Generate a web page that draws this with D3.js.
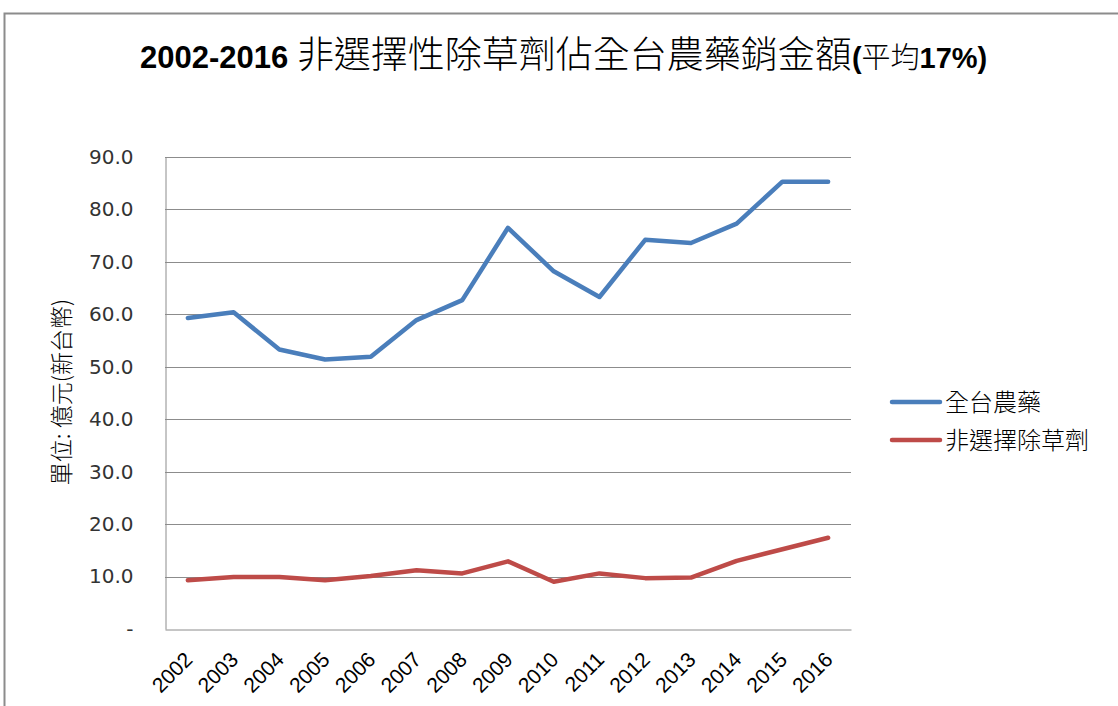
<!DOCTYPE html>
<html>
<head>
<meta charset="utf-8">
<script src="https://cdn.jsdelivr.net/npm/d3@7"></script>
<style>
  body { margin: 0; background: #fff; }
  svg { display: block; }
  .lat { font-family: "Liberation Sans", sans-serif; }
  .cjk { font-family: "Noto Sans CJK TC", sans-serif; font-weight: 300; }
  .grid line { stroke: #8c8c8c; stroke-width: 1; }
</style>
</head>
<body>
<svg width="1118" height="706"></svg>
<script>
// data
const years = ['2002','2003','2004','2005','2006','2007','2008','2009','2010','2011','2012','2013','2014','2015','2016'];
const allPesticide = [59.3, 60.4, 53.3, 51.4, 51.9, 58.9, 62.7, 76.5, 68.2, 63.3, 74.2, 73.6, 77.3, 85.3, 85.3];
const herbicide = [9.3, 9.9, 9.9, 9.3, 10.1, 11.2, 10.6, 12.9, 9.0, 10.6, 9.7, 9.8, 13.0, 15.2, 17.4];
const yTicks = [0, 10, 20, 30, 40, 50, 60, 70, 80, 90];
const seriesNames = ['全台農藥', '非選擇除草劑'];
const seriesColors = ['#4a7ebb', '#be4b48'];

const svg = d3.select('svg');
const margin = { top: 157, left: 165, right: 267, bottom: 77 };
const width = 1118, height = 706;
const innerW = width - margin.left - margin.right;
const innerH = height - margin.top - margin.bottom;

// outer chart border
svg.append('rect')
    .attr('x', 4.5).attr('y', 13.5)
    .attr('width', 1130).attr('height', 720)
    .attr('fill', 'none')
    .attr('stroke', '#8c8c8c')
    .attr('stroke-width', 2);

// title
const title = svg.append('text')
    .attr('x', 140).attr('y', 68)
    .attr('fill', '#000');
title.append('tspan').attr('class', 'lat').attr('font-weight', 'bold').attr('font-size', 31).text('2002-2016 ');
title.append('tspan').attr('class', 'cjk').attr('font-size', 37).text('非選擇性除草劑佔全台農藥銷金額');
title.append('tspan').attr('class', 'lat').attr('font-weight', 'bold').attr('font-size', 29).text('(');
title.append('tspan').attr('class', 'cjk').attr('font-size', 29).text('平均');
title.append('tspan').attr('class', 'lat').attr('font-weight', 'bold').attr('font-size', 29).text('17%)');

// scales
const x = d3.scalePoint()
    .domain(years)
    .range([margin.left, margin.left + innerW])
    .padding(0.5);

const y = d3.scaleLinear()
    .domain([0, 90])
    .range([margin.top + innerH, margin.top]);

// grid lines
svg.append('g')
    .attr('class', 'grid')
    .selectAll('line')
    .data(yTicks.filter(d => d > 0))
    .enter()
    .append('line')
    .attr('x1', margin.left).attr('x2', margin.left + innerW)
    .attr('y1', d => Math.round(y(d)) + 0.5)
    .attr('y2', d => Math.round(y(d)) + 0.5);

// y axis
const yAxis = d3.axisLeft(y)
    .tickValues(yTicks)
    .tickSize(0)
    .tickPadding(32)
    .tickFormat(d => d === 0 ? '-' : d.toFixed(1));

const yAxisGroup = svg.append('g')
    .attr('transform', `translate(${margin.left + 0.5},0)`)
    .call(yAxis);
yAxisGroup.select('.domain').attr('stroke', '#8c8c8c');
yAxisGroup.selectAll('text')
    .style('font-family', '"DejaVu Sans", sans-serif')
    .style('font-size', '20px')
    .attr('fill', '#333');

// x axis
const xAxis = d3.axisBottom(x).tickSize(0).tickFormat('');
const xAxisGroup = svg.append('g')
    .attr('transform', `translate(0,${margin.top + innerH + 0.5})`)
    .call(xAxis);
xAxisGroup.select('.domain').attr('stroke', '#8c8c8c');

svg.append('g')
    .selectAll('text')
    .data(years)
    .enter()
    .append('text')
    .attr('class', 'lat')
    .attr('font-size', 21)
    .attr('fill', '#000')
    .attr('text-anchor', 'end')
    .attr('transform', d => `translate(${x(d) + 6},${margin.top + innerH + 32}) rotate(-45)`)
    .text(d => d);

// y axis title
svg.append('text')
    .attr('class', 'cjk')
    .attr('transform', 'translate(70,392) rotate(-90)')
    .attr('text-anchor', 'middle')
    .attr('font-size', 23)
    .attr('fill', '#000')
    .text('單位: 億元(新台幣)');

// lines
const line = d3.line()
    .x((d, i) => x(years[i]))
    .y(d => y(d));

[allPesticide, herbicide].forEach((series, i) => {
    svg.append('path')
        .datum(series)
        .attr('fill', 'none')
        .attr('stroke', seriesColors[i])
        .attr('stroke-width', 4.5)
        .attr('stroke-linejoin', 'round')
        .attr('stroke-linecap', 'round')
        .attr('d', line);
});

// legend
const legend = svg.append('g');
seriesNames.forEach((name, i) => {
    const ly = 402 + i * 38;
    legend.append('line')
        .attr('x1', 892).attr('x2', 940)
        .attr('y1', ly).attr('y2', ly)
        .attr('stroke', seriesColors[i])
        .attr('stroke-width', 4.5)
        .attr('stroke-linecap', 'round');
    legend.append('text')
        .attr('class', 'cjk')
        .attr('x', 945).attr('y', ly + 9)
        .attr('font-size', 24)
        .attr('fill', '#000')
        .text(name);
});
</script>
</body>
</html>
